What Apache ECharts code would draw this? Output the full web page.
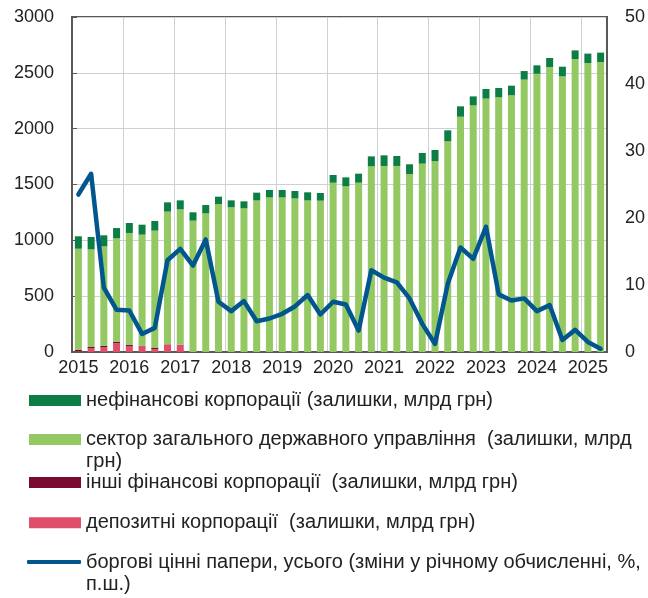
<!DOCTYPE html>
<html>
<head>
<meta charset="utf-8">
<script src="https://cdn.jsdelivr.net/npm/echarts@6/dist/echarts.min.js"></script>
<style>
  html, body { margin: 0; padding: 0; background: #fff; }
  #chart { width: 648px; height: 598px; }
</style>
</head>
<body>
<div id="chart"></div>
<script>
// квартали 2015 Q1 - 2025 Q2
const quarters = [
  '2015Q1','2015Q2','2015Q3','2015Q4','2016Q1','2016Q2','2016Q3','2016Q4',
  '2017Q1','2017Q2','2017Q3','2017Q4','2018Q1','2018Q2','2018Q3','2018Q4',
  '2019Q1','2019Q2','2019Q3','2019Q4','2020Q1','2020Q2','2020Q3','2020Q4',
  '2021Q1','2021Q2','2021Q3','2021Q4','2022Q1','2022Q2','2022Q3','2022Q4',
  '2023Q1','2023Q2','2023Q3','2023Q4','2024Q1','2024Q2','2024Q3','2024Q4',
  '2025Q1','2025Q2'
];

// залишки, млрд грн
const depositCorp = [6, 36, 42, 78, 54, 51, 24, 66, 66, 0, 0, 0, 0, 0, 0, 0, 0, 0, 0, 0, 0,
  0, 0, 0, 0, 0, 0, 0, 0, 0, 0, 0, 0, 0, 0, 0, 0, 0, 0, 0, 0, 0];
const otherFinCorp = [15, 9, 12, 12, 9, 3, 12, 3, 0, 0, 0, 0, 0, 0, 0, 0, 0, 0, 0, 0, 0,
  0, 0, 0, 0, 0, 0, 0, 0, 0, 0, 0, 0, 0, 0, 0, 0, 0, 0, 0, 0, 0];
const generalGov = [904, 874, 892, 928, 1003, 997, 1051, 1188, 1212, 1176, 1242, 1325, 1295, 1287,
  1358, 1385, 1385, 1376, 1358, 1355, 1516, 1484, 1516, 1663, 1666, 1666, 1594, 1687, 1710, 1887,
  2107, 2209, 2269, 2281, 2298, 2439, 2492, 2552, 2469, 2624, 2588, 2597];
const nonFinCorp = [111, 111, 99, 92, 89, 89, 86, 83, 80, 75, 74, 66, 63, 62, 69, 66, 66, 66, 72, 69,
  69, 80, 81, 89, 95, 89, 87, 95, 99, 98, 93, 80, 86, 83, 87, 77, 75, 81, 86, 77, 84, 84];

// зміни у річному обчисленні, %
const debtSecTotal = [23.5, 26.6, 9.6, 6.3, 6.2, 2.7, 3.6, 13.7, 15.4, 12.9, 16.8, 7.5, 6.1, 7.6,
  4.6, 5.0, 5.7, 6.8, 8.5, 5.6, 7.5, 7.1, 3.2, 12.2, 11.1, 10.4, 8.0, 4.2, 1.2, 10.2, 15.6, 13.9,
  18.7, 8.6, 7.7, 8.0, 6.1, 7.0, 1.8, 3.3, 1.5, 0.5];

const names = [
  'нефінансові корпорації (залишки, млрд грн)',
  'сектор загального державного управління  (залишки, млрд грн)',
  'інші фінансові корпорації  (залишки, млрд грн)',
  'депозитні корпорації  (залишки, млрд грн)',
  'боргові цінні папери, усього (зміни у річному обчисленні, %, п.ш.)'
];
// порожній перший рядок, щоб перший рядок тексту стояв навпроти значка
const legendText = [
  names[0],
  '\nсектор загального державного управління  (залишки, млрд\nгрн)',
  names[2],
  names[3],
  '\nборгові цінні папери, усього (зміни у річному обчисленні, %,\nп.ш.)'
];
// центри рядків легенди
const legendCenters = [399, 439.5, 481, 521.3, 562];

const FONT = "'Liberation Sans', Arial, sans-serif";
const AXIS_COLOR = '#595959';
const LEG_LINE = 22;

let chart = echarts.init(document.getElementById('chart'));

let legends = names.map((n, i) => {
  let multi = legendText[i].indexOf('\n') >= 0;
  let isLine = i === 4;
  let h = isLine ? 4 : 11;
  let top = multi ? legendCenters[i] - LEG_LINE * 1.5 : legendCenters[i] - h / 2 - 3;
  return {
    left: isLine ? 27 : 29,
    top: top,
    padding: 0,
    itemWidth: isLine ? 54 : 52,
    itemHeight: h,
    icon: isLine ? 'roundRect' : 'rect',
    data: [n],
    formatter: () => legendText[i],
    textStyle: {
      fontFamily: FONT,
      fontSize: 20,
      color: '#222',
      lineHeight: multi ? LEG_LINE : h
    }
  };
});

let option = {
  animation: false,
  backgroundColor: '#fff',
  textStyle: { fontFamily: FONT },
  legend: legends,
  grid: {
    left: 72,
    right: 39,
    top: 17,
    bottom: 246,
    show: true,
    borderColor: AXIS_COLOR,
    borderWidth: 2
  },
  xAxis: {
    type: 'category',
    data: quarters,
    boundaryGap: true,
    axisLine: { lineStyle: { color: AXIS_COLOR, width: 2 } },
    axisTick: {
      inside: true,
      length: 5,
      interval: (idx) => idx % 4 === 0,
      lineStyle: { color: AXIS_COLOR, width: 1.5 }
    },
    splitLine: {
      show: true,
      interval: (idx) => idx % 4 === 0,
      lineStyle: { color: '#cdd1d5', width: 1 }
    },
    axisLabel: {
      interval: (idx) => idx % 4 === 0,
      formatter: (v) => v.slice(0, 4),
      fontSize: 18,
      color: '#222',
      margin: 7,
      fontFamily: FONT
    }
  },
  yAxis: [
    {
      type: 'value',
      min: 0,
      max: 3000,
      interval: 500,
      axisLine: { show: true, lineStyle: { color: AXIS_COLOR, width: 2 } },
      axisTick: { show: true, inside: true, length: 5, lineStyle: { color: AXIS_COLOR } },
      splitLine: { lineStyle: { color: '#cdd1d5', width: 1 } },
      axisLabel: { fontSize: 18, color: '#222', margin: 18, fontFamily: FONT, formatter: (v) => String(v) }
    },
    {
      type: 'value',
      min: 0,
      max: 50,
      interval: 10,
      position: 'right',
      axisLine: { show: true, lineStyle: { color: AXIS_COLOR, width: 2 } },
      axisTick: { show: false },
      splitLine: { show: false },
      axisLabel: { fontSize: 18, color: '#222', margin: 18, fontFamily: FONT, formatter: (v) => String(v) }
    }
  ],
  series: [
    {
      name: names[3],
      type: 'bar',
      stack: 'total',
      barWidth: 7,
      itemStyle: { color: '#df4f69' },
      data: depositCorp
    },
    {
      name: names[2],
      type: 'bar',
      stack: 'total',
      barWidth: 7,
      itemStyle: { color: '#7a0a32' },
      data: otherFinCorp
    },
    {
      name: names[1],
      type: 'bar',
      stack: 'total',
      barWidth: 7,
      itemStyle: { color: '#93c863' },
      data: generalGov
    },
    {
      name: names[0],
      type: 'bar',
      stack: 'total',
      barWidth: 7,
      itemStyle: { color: '#0b7d45' },
      data: nonFinCorp
    },
    {
      name: names[4],
      type: 'line',
      yAxisIndex: 1,
      symbol: 'none',
      z: 5,
      lineStyle: { color: '#00568d', width: 4.5, join: 'round', cap: 'round' },
      itemStyle: { color: '#00568d' },
      data: debtSecTotal
    }
  ]
};

chart.setOption(option);
window.addEventListener('resize', () => {
  chart.resize();
});
</script>
</body>
</html>
